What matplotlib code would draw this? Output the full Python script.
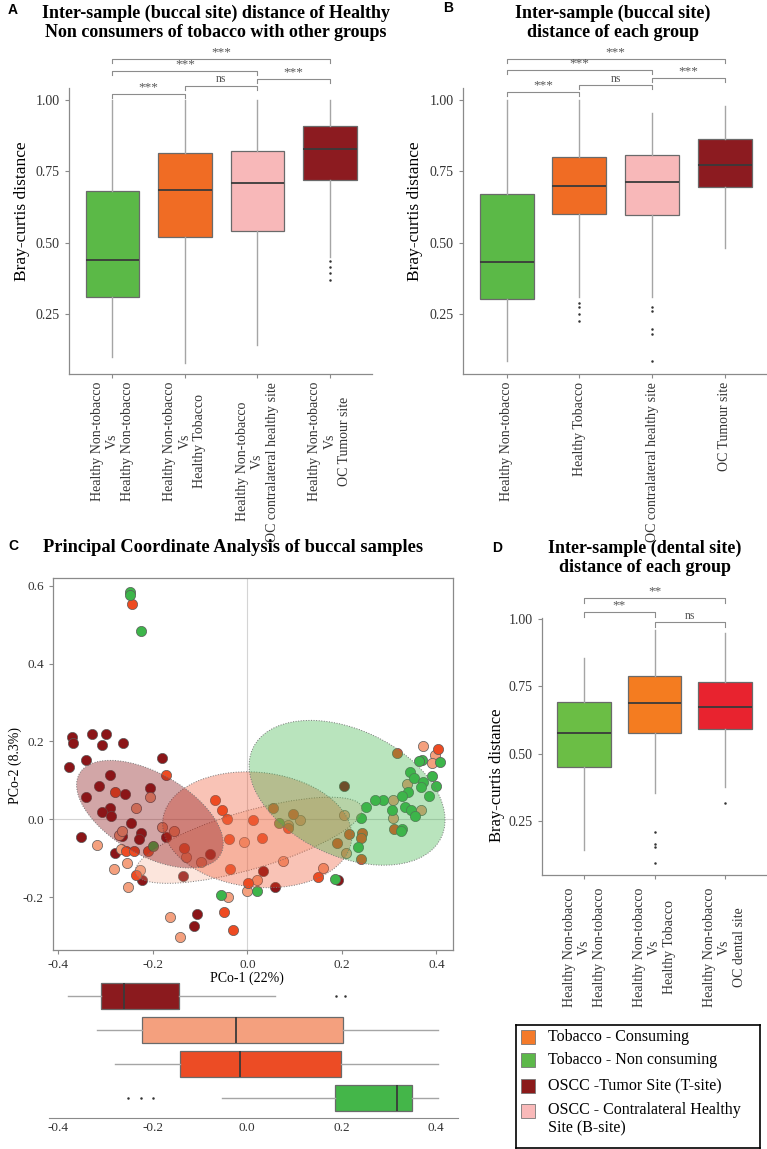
import numpy as np
import matplotlib.pyplot as plt
from matplotlib.patches import Ellipse, Rectangle

plt.rcParams['font.family'] = ['Liberation Serif', 'DejaVu Serif']
plt.rcParams['axes.unicode_minus'] = False

W, H = 767, 1149

# ---------------- data ----------------
# panel A : buccal, healthy non-tobacco vs other groups
a_labels = ["Healthy Non-tobacco\nVs\nHealthy Non-tobacco",
            "Healthy Non-tobacco\nVs\nHealthy Tobacco",
            "Healthy Non-tobacco\nVs\nOC contralateral healthy site",
            "Healthy Non-tobacco\nVs\nOC Tumour site"]
a_whislo = [0.10, 0.08, 0.14, 0.45]
a_q1 = [0.31, 0.52, 0.54, 0.72]
a_med = [0.44, 0.685, 0.71, 0.83]
a_q3 = [0.68, 0.815, 0.82, 0.91]
a_whishi = [1.0, 1.0, 1.0, 1.0]
a_fliers = [[], [], [], [0.435, 0.415, 0.395, 0.37]]
a_sig_pairs = [(1, 2), (2, 3), (3, 4), (1, 3), (1, 4)]
a_sig_y = [1.021, 1.049, 1.073, 1.101, 1.143]
a_sig_txt = ['***', 'ns', '***', '***', '***']

# panel B : buccal, each group
b_labels = ["Healthy Non-tobacco", "Healthy Tobacco",
            "OC contralateral healthy site", "OC Tumour site"]
b_whislo = [0.087, 0.31, 0.31, 0.48]
b_q1 = [0.304, 0.60, 0.598, 0.696]
b_med = [0.434, 0.70, 0.713, 0.773]
b_q3 = [0.671, 0.80, 0.808, 0.864]
b_whishi = [1.0, 1.0, 0.955, 0.979]
b_fliers = [[], [0.29, 0.276, 0.25, 0.227], [0.273, 0.26, 0.196, 0.18, 0.084], []]
b_sig_pairs = [(1, 2), (2, 3), (3, 4), (1, 3), (1, 4)]
b_sig_y = [1.028, 1.052, 1.077, 1.105, 1.143]
b_sig_txt = ['***', 'ns', '***', '***', '***']

box_colors = ['#5BB947', '#F06C24', '#F8B8B9', '#8C1B20']

# panel C : PCoA of buccal samples
tum_x = [-0.370, -0.368, -0.328, -0.298, -0.307, -0.263, -0.377, -0.342, -0.180, -0.290,
         -0.313, -0.258, -0.205, -0.342, -0.290, -0.307, -0.288, -0.245, -0.351, -0.265,
         -0.224, -0.230, -0.171, -0.280, -0.222, -0.135, -0.078, 0.034, 0.059, -0.106,
         -0.112, 0.205, 0.192]
tum_y = [0.211, 0.195, 0.219, 0.218, 0.190, 0.196, 0.134, 0.152, 0.157, 0.113,
         0.085, 0.065, 0.080, 0.057, 0.028, 0.018, 0.008, -0.010, -0.046, -0.044,
         -0.036, -0.052, -0.046, -0.087, -0.157, -0.146, -0.090, -0.134, -0.175, -0.244,
         -0.275, 0.085, -0.155]
con_x = [-0.317, -0.283, -0.252, -0.268, -0.254, -0.226, -0.272, -0.266, -0.235, -0.205,
         -0.180, -0.156, -0.129, -0.099, -0.006, 0.076, 0.021, 0.000, -0.040, -0.163,
         -0.142, 0.160, 0.372, 0.397, 0.391, 0.338, 0.309, 0.368, 0.309, 0.209,
         0.205, 0.112, 0.087]
con_y = [-0.067, -0.128, -0.175, -0.077, -0.113, -0.131, -0.041, -0.031, 0.028, 0.057,
         -0.020, -0.031, -0.098, -0.110, -0.059, -0.108, -0.157, -0.185, -0.200, -0.252,
         -0.303, -0.126, 0.188, 0.165, 0.144, 0.090, 0.050, 0.025, 0.003, -0.088,
         0.010, -0.003, -0.015]
smk_x = [-0.243, -0.279, -0.171, -0.256, -0.239, -0.211, -0.235, -0.068, -0.053, -0.042,
         0.011, -0.133, -0.038, 0.032, -0.036, 0.002, 0.150, 0.085, 0.055, 0.097,
         0.214, 0.243, 0.241, 0.190, 0.241, 0.317, 0.404, 0.311, -0.049, -0.030]
smk_y = [0.553, 0.069, 0.113, -0.082, -0.082, -0.082, -0.144, 0.049, 0.023, 0.000,
         -0.002, -0.075, -0.052, -0.049, -0.129, -0.165, -0.149, -0.023, 0.028, 0.013,
         -0.038, -0.036, -0.049, -0.062, -0.103, 0.170, 0.180, -0.024, -0.239, -0.285]
non_x = [-0.249, -0.249, -0.224, -0.200, 0.066, -0.055, 0.021, 0.186, 0.370, 0.408,
         0.364, 0.345, 0.353, 0.372, 0.368, 0.340, 0.328, 0.287, 0.271, 0.252,
         0.307, 0.334, 0.347, 0.355, 0.328, 0.324, 0.241, 0.235, 0.390, 0.400,
         0.385]
non_y = [0.584, 0.576, 0.483, -0.069, -0.010, -0.195, -0.185, -0.154, 0.152, 0.147,
         0.149, 0.121, 0.105, 0.095, 0.082, 0.070, 0.060, 0.049, 0.049, 0.031,
         0.025, 0.031, 0.023, 0.008, -0.024, -0.031, 0.003, -0.071, 0.110, 0.085,
         0.060]

pc_colors = ['#8B1518', '#F4A07E', '#EE4B22', '#3DB54A']

# confidence ellipses (centre, width, height, angle) per group
ell_cx = [0.003, 0.021, -0.206, 0.211]
ell_cy = [-0.054, -0.027, 0.013, 0.068]
ell_w = [0.508, 0.403, 0.366, 0.464]
ell_h = [0.146, 0.294, 0.197, 0.308]
ell_ang = [20, -10, -39, -37]
ell_col = ['#F4A07E', '#EE4B22', '#8B1518', '#3DB54A']
ell_alpha = [0.27, 0.33, 0.38, 0.36]

# PCo-1 marginal boxplots (top to bottom: tumour, contralateral, consuming, non consuming)
m_whislo = [-0.378, -0.318, -0.279, -0.053]
m_q1 = [-0.309, -0.222, -0.143, 0.186]
m_med = [-0.260, -0.024, -0.014, 0.317]
m_q3 = [-0.144, 0.203, 0.199, 0.349]
m_whishi = [0.059, 0.404, 0.404, 0.404]
m_fliers = [[0.188, 0.207], [], [], [-0.251, -0.224, -0.200]]
m_colors = ['#8B1A1E', '#F4A07E', '#EC4C25', '#44B649']

# panel D : dental site
d_labels = ["Healthy Non-tobacco\nVs\nHealthy Non-tobacco",
            "Healthy Non-tobacco\nVs\nHealthy Tobacco",
            "Healthy Non-tobacco\nVs\nOC dental site"]
d_whislo = [0.141, 0.353, 0.375]
d_q1 = [0.45, 0.576, 0.591]
d_med = [0.576, 0.688, 0.673]
d_q3 = [0.691, 0.788, 0.766]
d_whishi = [0.855, 0.96, 0.948]
d_fliers = [[], [0.21, 0.165, 0.155, 0.093], [0.316]]
d_sig_pairs = [(1, 2), (2, 3), (1, 3)]
d_sig_y = [1.026, 0.989, 1.078]
d_sig_txt = ['**', 'ns', '**']
d_colors = ['#6BBE45', '#F47C20', '#E8232F']

leg_labels = ["Tobacco - Consuming", "Tobacco - Non consuming",
              "OSCC -Tumor Site (T-site)", "OSCC - Contralateral Healthy\nSite (B-site)"]
leg_colors = ['#F47A2A', '#5DB84A', '#8B1A1A', '#F9B9B9']

# ---------------- helpers ----------------
fig = plt.figure(figsize=(W / 100, H / 100), dpi=100)


def px_axes(l, t, r, b):
    return fig.add_axes([l / W, 1 - b / H, (r - l) / W, (b - t) / H])


def boxes(ax, whislo, q1, med, q3, whishi, fliers, colors, width, orient='vertical', pos=None):
    stats = []
    for i in range(len(med)):
        stats.append(dict(whislo=whislo[i], q1=q1[i], med=med[i], q3=q3[i],
                          whishi=whishi[i], fliers=fliers[i]))
    if pos is None:
        pos = np.arange(1, len(med) + 1)
    bp = ax.bxp(stats, positions=pos, widths=width, patch_artist=True, showcaps=False,
                orientation=orient,
                boxprops=dict(edgecolor='#6a6a6a', linewidth=0.9),
                medianprops=dict(color='#3a3a3a', linewidth=1.3),
                whiskerprops=dict(color='#a5a5a5', linewidth=1.0),
                flierprops=dict(marker='o', markersize=1.8, markerfacecolor='#333333',
                                markeredgecolor='none'))
    for p, c in zip(bp['boxes'], colors):
        p.set_facecolor(c)


def brackets(ax, pairs, ys, txts, tick):
    for (i, j), y, t in zip(pairs, ys, txts):
        ax.plot([i, i, j, j], [y - tick, y, y, y - tick], color='#8c8c8c', lw=0.8,
                clip_on=False)
        fs = 9.5 if '*' in t else 8.5
        ax.text((i + j) / 2, y + 0.002, t, ha='center', va='bottom', fontsize=fs,
                color='#555555', clip_on=False)


def style(ax):
    for s in ['top', 'right']:
        ax.spines[s].set_visible(False)
    for s in ['left', 'bottom']:
        ax.spines[s].set_color('#8a8a8a')
        ax.spines[s].set_linewidth(0.9)
    ax.tick_params(colors='#8a8a8a', labelcolor='#333333', length=3, width=0.8,
                   labelsize=10)


def ftext(x, y, s, **kw):
    fig.text(x / W, 1 - y / H, s, **kw)


yt = [0.25, 0.50, 0.75, 1.00]
yt_lab = ['0.25', '0.50', '0.75', '1.00']

# ---------------- panel A ----------------
axA = px_axes(69, 88, 372, 374)
boxes(axA, a_whislo, a_q1, a_med, a_q3, a_whishi, a_fliers, box_colors, 0.74)
brackets(axA, a_sig_pairs, a_sig_y, a_sig_txt, 0.013)
axA.set_xlim(0.4, 4.58)
axA.set_ylim(0.04, 1.042)
axA.set_yticks(yt, yt_lab)
axA.set_xticks([1, 2, 3, 4], a_labels, rotation=90, multialignment='center', fontsize=9)
style(axA)
axA.tick_params(axis='x', pad=2.5)
ftext(22, 211, 'Bray-curtis distance', rotation=90, ha='center', va='center', fontsize=12.5)
ftext(8, 10, 'A', family='Liberation Sans', weight='bold', fontsize=10, va='center')
ftext(216, 23, 'Inter-sample (buccal site) distance of Healthy\nNon consumers of tobacco with other groups',
      ha='center', va='center', fontsize=13, weight='bold', linespacing=1.15)

# ---------------- panel B ----------------
axB = px_axes(463, 88, 767, 374)
boxes(axB, b_whislo, b_q1, b_med, b_q3, b_whishi, b_fliers, box_colors, 0.74)
brackets(axB, b_sig_pairs, b_sig_y, b_sig_txt, 0.013)
axB.set_xlim(0.4, 4.58)
axB.set_ylim(0.04, 1.042)
axB.set_yticks(yt, yt_lab)
axB.set_xticks([1, 2, 3, 4], b_labels, rotation=90, fontsize=9)
style(axB)
axB.tick_params(axis='x', pad=2.5)
ftext(415, 211, 'Bray-curtis distance', rotation=90, ha='center', va='center', fontsize=12.5)
ftext(443, 8, 'B', family='Liberation Sans', weight='bold', fontsize=10, va='center')
ftext(613, 23, 'Inter-sample (buccal site)\ndistance of each group',
      ha='center', va='center', fontsize=13, weight='bold', linespacing=1.15)

# ---------------- panel C ----------------
axC = px_axes(53, 578, 453, 950)
axC.axhline(0, color='#d4d4d4', lw=0.8, zorder=0)
axC.axvline(0, color='#d4d4d4', lw=0.8, zorder=0)
for gx, gy, c in zip([tum_x, con_x, smk_x, non_x], [tum_y, con_y, smk_y, non_y], pc_colors):
    axC.scatter(gx, gy, s=54, color=c, edgecolor='#5a5a5a', linewidth=0.5, zorder=2)
for i in range(len(ell_cx)):
    axC.add_patch(Ellipse((ell_cx[i], ell_cy[i]), ell_w[i], ell_h[i], angle=ell_ang[i],
                          facecolor=ell_col[i], alpha=ell_alpha[i], edgecolor='none', zorder=3))
    axC.add_patch(Ellipse((ell_cx[i], ell_cy[i]), ell_w[i], ell_h[i], angle=ell_ang[i],
                          facecolor='none', edgecolor='#777777', lw=0.7, ls=':', zorder=3))
axC.set_xlim(-0.411, 0.435)
axC.set_ylim(-0.336, 0.62)
axC.set_xticks([-0.4, -0.2, 0.0, 0.2, 0.4], ['-0.4', '-0.2', '0.0', '0.2', '0.4'])
axC.set_yticks([-0.2, 0.0, 0.2, 0.4, 0.6], ['-0.2', '0.0', '0.2', '0.4', '0.6'])
for s in axC.spines.values():
    s.set_color('#8a8a8a')
    s.set_linewidth(0.9)
axC.tick_params(colors='#8a8a8a', labelcolor='#333333', length=3, width=0.8, labelsize=9.5)
ftext(247, 978, 'PCo-1 (22%)', ha='center', va='center', fontsize=10)
ftext(15, 766, 'PCo-2 (8.3%)', rotation=90, ha='center', va='center', fontsize=10)
ftext(8, 546, 'C', family='Liberation Sans', weight='bold', fontsize=10, va='center')
ftext(233, 547, 'Principal Coordinate Analysis of buccal samples',
      ha='center', va='center', fontsize=13.2, weight='bold')

# marginal boxplot of PCo-1
axM = px_axes(49, 980, 458, 1118)
boxes(axM, m_whislo, m_q1, m_med, m_q3, m_whishi, m_fliers, m_colors, 0.74,
      orient='horizontal', pos=[4, 3, 2, 1])
axM.set_xlim(-0.419, 0.446)
axM.set_ylim(0.41, 4.47)
axM.set_yticks([])
axM.set_xticks([-0.4, -0.2, 0.0, 0.2, 0.4], ['-0.4', '-0.2', '0.0', '0.2', '0.4'])
for s in ['top', 'right', 'left']:
    axM.spines[s].set_visible(False)
axM.spines['bottom'].set_color('#8a8a8a')
axM.tick_params(colors='#8a8a8a', labelcolor='#333333', length=0, labelsize=9.5, pad=3)

# ---------------- panel D ----------------
axD = px_axes(542, 618, 767, 875)
boxes(axD, d_whislo, d_q1, d_med, d_q3, d_whishi, d_fliers, d_colors, 0.76)
brackets(axD, d_sig_pairs, d_sig_y, d_sig_txt, 0.02)
axD.set_xlim(0.4, 3.6)
axD.set_ylim(0.05, 1.004)
axD.set_yticks(yt, yt_lab)
axD.set_xticks([1, 2, 3], d_labels, rotation=90, multialignment='center', fontsize=9.3)
style(axD)
axD.tick_params(axis='x', pad=6)
ftext(497, 775, 'Bray-curtis distance', rotation=90, ha='center', va='center', fontsize=12)
ftext(492, 548, 'D', family='Liberation Sans', weight='bold', fontsize=10, va='center')
ftext(645, 558, 'Inter-sample (dental site)\ndistance of each group',
      ha='center', va='center', fontsize=13, weight='bold', linespacing=1.15)

# ---------------- legend ----------------
axL = px_axes(516, 1025, 760, 1148)
axL.set_xlim(0, 244)
axL.set_ylim(123, 0)
axL.set_xticks([])
axL.set_yticks([])
for s in axL.spines.values():
    s.set_color('black')
    s.set_linewidth(1.2)
row_y = [12, 35, 61, 86]
for y, lab, c in zip(row_y, leg_labels, leg_colors):
    axL.add_patch(Rectangle((5, y - 7), 14, 14, facecolor=c, edgecolor='#777777', lw=0.6))
    if '\n' in lab:
        axL.text(32, y - 9, lab, va='top', ha='left', fontsize=11.5, linespacing=1.2)
    else:
        axL.text(32, y, lab, va='center', ha='left', fontsize=11.5)

fig.savefig('out.png', dpi=100)
